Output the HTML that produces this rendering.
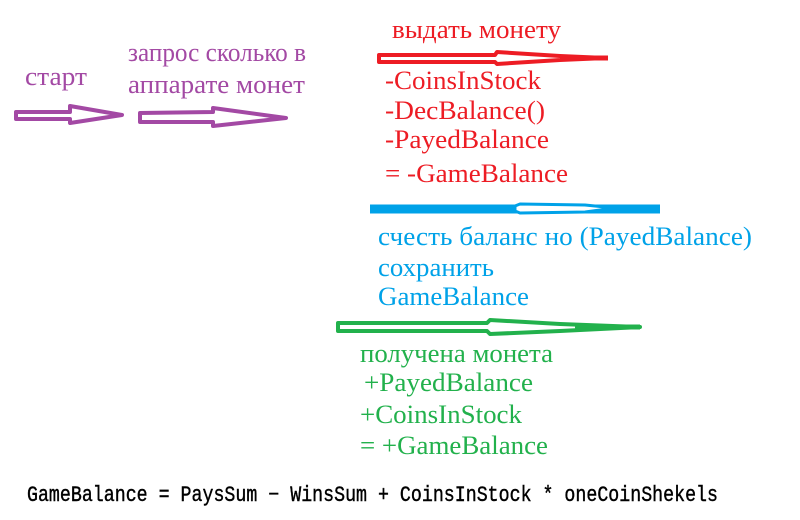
<!DOCTYPE html>
<html><head><meta charset="utf-8"><style>
html,body{margin:0;padding:0;background:#fff;}
svg{display:block}
</style></head><body>
<svg width="800" height="520" xmlns="http://www.w3.org/2000/svg">
<rect width="800" height="520" fill="#fff"/>
<g font-family="'Liberation Serif', 'DejaVu Serif', serif" font-size="26">
<text x="25" y="85" fill="#a349a4" textLength="62" lengthAdjust="spacingAndGlyphs">старт</text>
<text x="128" y="61" fill="#a349a4" textLength="178" lengthAdjust="spacingAndGlyphs">запрос сколько в</text>
<text x="128" y="93" fill="#a349a4" textLength="177" lengthAdjust="spacingAndGlyphs">аппарате монет</text>
<text x="392" y="38" fill="#ed1c24" textLength="169" lengthAdjust="spacingAndGlyphs">выдать монету</text>
<text x="385" y="89" fill="#ed1c24" textLength="156" lengthAdjust="spacingAndGlyphs">-CoinsInStock</text>
<text x="385" y="119" fill="#ed1c24" textLength="160" lengthAdjust="spacingAndGlyphs">-DecBalance()</text>
<text x="385" y="148" fill="#ed1c24" textLength="164" lengthAdjust="spacingAndGlyphs">-PayedBalance</text>
<text x="385" y="182" fill="#ed1c24" textLength="183" lengthAdjust="spacingAndGlyphs">= -GameBalance</text>
<text x="378" y="245" fill="#00a2e8" textLength="374" lengthAdjust="spacingAndGlyphs">счесть баланс но (PayedBalance)</text>
<text x="378" y="276" fill="#00a2e8" textLength="116" lengthAdjust="spacingAndGlyphs">сохранить</text>
<text x="378" y="305" fill="#00a2e8" textLength="151" lengthAdjust="spacingAndGlyphs">GameBalance</text>
<text x="360" y="362" fill="#22b14c" textLength="193" lengthAdjust="spacingAndGlyphs">получена монета</text>
<text x="364" y="391" fill="#22b14c" textLength="169" lengthAdjust="spacingAndGlyphs">+PayedBalance</text>
<text x="360" y="423" fill="#22b14c" textLength="162" lengthAdjust="spacingAndGlyphs">+CoinsInStock</text>
<text x="360" y="454" fill="#22b14c" textLength="188" lengthAdjust="spacingAndGlyphs">= +GameBalance</text>
</g>
<text x="27" y="501" font-family="'Liberation Mono', monospace" font-size="22" fill="#000" stroke="#000" stroke-width="0.4" textLength="691" lengthAdjust="spacingAndGlyphs">GameBalance = PaysSum − WinsSum + CoinsInStock * oneCoinShekels</text>
<g fill="none" stroke-linejoin="round" stroke-width="4">
<polygon points="16,112 70,112 70,106 122,115 70,123 70,119 16,119" stroke="#a349a4"/>
<polygon points="140,113 213,112 213,108 286,118 213,126 213,122 140,122" stroke="#a349a4"/>
<polygon points="379,55 495,55 497,52 560,56 606,58 560,60 497,64 495,62 379,62" stroke="#ed1c24"/>
<line x1="560" y1="58" x2="608" y2="58" stroke="#ed1c24" stroke-width="5"/>
<line x1="370" y1="209" x2="660" y2="209" stroke="#00a2e8" stroke-width="9"/>
<polygon points="515,206 520,204 585,205 615,208 585,212 520,213 515,211" stroke="#00a2e8" fill="#fff" stroke-width="3"/>
<polygon points="338,323 487,323 490,320 560,324 640,327 560,331 490,334 487,331 338,331" stroke="#22b14c"/>
<line x1="575" y1="327" x2="640" y2="327" stroke="#22b14c" stroke-width="5"/>
</g>
</svg>
</body></html>
